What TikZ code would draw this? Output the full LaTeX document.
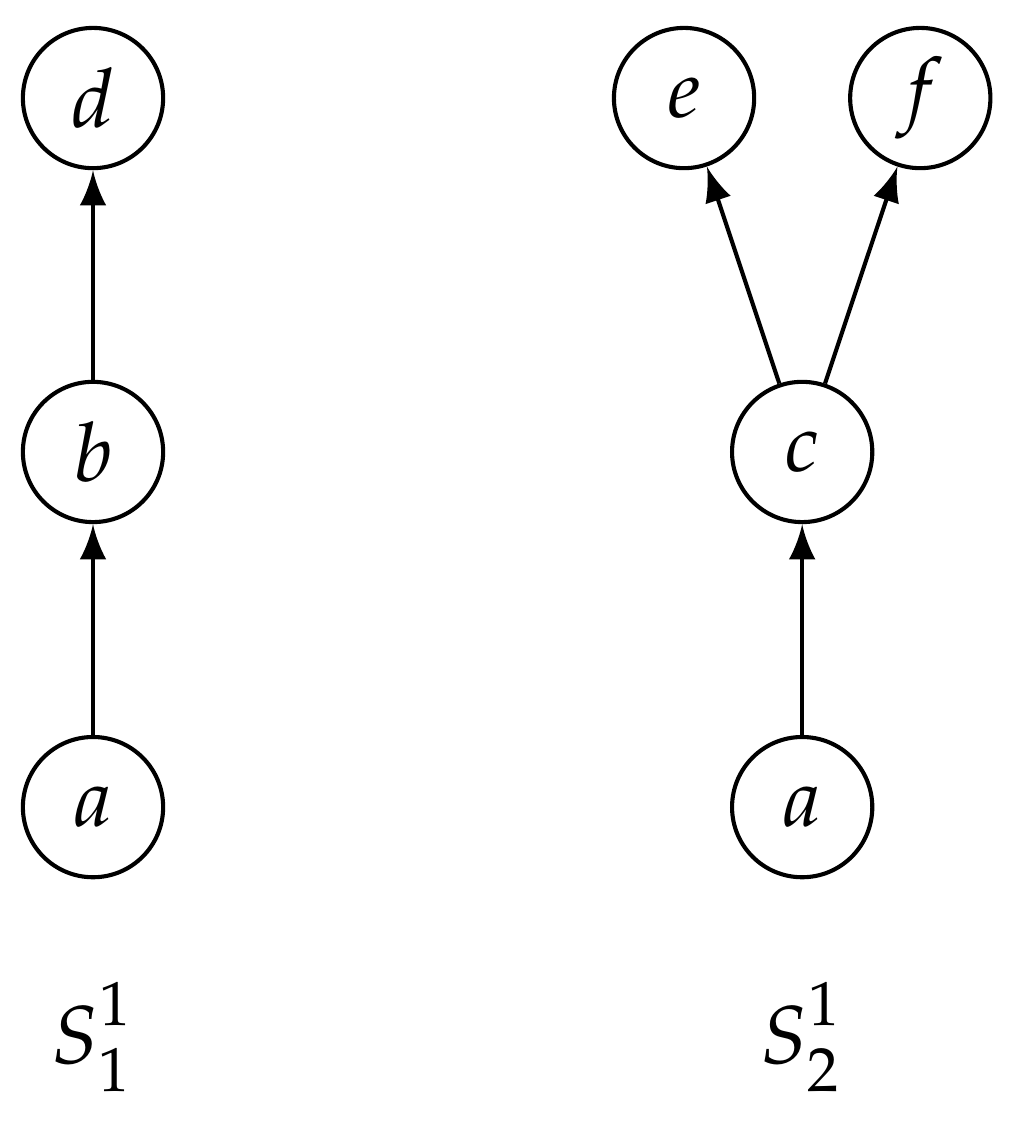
\documentclass[tikz,border=0pt]{standalone}
\usepackage{mathpazo}
\begin{document}
\begin{tikzpicture}[x=1pt,y=1pt, vtxsty/.style={circle,draw,line width=0.5pt,minimum size=17.1pt,inner sep=0pt}, arrsty/.style={->,>=latex,line width=0.5pt}]
    \useasboundingbox (0,0) rectangle (124,-137.4);
    % primeiro grafo
    \node[vtxsty] (a1) at (11.34,-98.4) {$a$};
    \node[vtxsty] (b1) at (11.34,-55.1) {$b$};
    \node[vtxsty] (d1) at (11.34,-11.95) {$d$};
    \draw[arrsty] (a1) -- (b1);
    \draw[arrsty] (b1) -- (d1);
    \node[anchor=base,inner sep=0pt] (s1) at (11.34,-129.6) {$S^{\raisebox{1pt}{$\scriptstyle 1$}}_{\raisebox{-1pt}{$\scriptstyle 1$}}$};

    % segundo grafo
    \node[vtxsty] (a2) at (97.8,-98.4) {$a$};
    \node[vtxsty] (c2) at (97.8,-55.1) {$c$};
    \node[vtxsty] (e2) at (83.4,-11.95) {$e$};
    \node[vtxsty] (f2) at (112.2,-11.95) {$f$};
    \draw[arrsty] (a2) -- (c2);
    \draw[arrsty] (c2) -- (e2);
    \draw[arrsty] (c2) -- (f2);
    \node[anchor=base,inner sep=0pt] (s2) at (97.8,-129.6) {$S^{\raisebox{1pt}{$\scriptstyle 1$}}_{\raisebox{-1pt}{$\scriptstyle 2$}}$};
  \end{tikzpicture}
\end{document}
